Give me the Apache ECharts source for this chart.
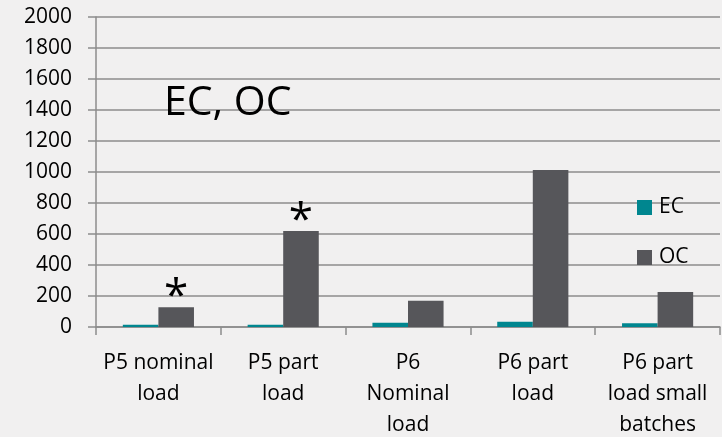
<!DOCTYPE html>
<html><head><meta charset="utf-8">
<script src="https://cdn.jsdelivr.net/npm/echarts@6/dist/echarts.min.js"></script>
<style>html,body{margin:0;padding:0;background:#f1f0f0;}#c{width:722px;height:437px;}</style>
</head><body><div id="c"></div>
<script>
const categories = ['P5 nominal\nload', 'P5 part\nload', 'P6\nNominal\nload', 'P6 part\nload', 'P6 part\nload small\nbatches'];
const ecValues = [15, 14, 28, 34, 24];
const ocValues = [127, 619, 170, 1013, 226];
const ocMarks = ['*', '*', '', '', ''];
const yTicks = [0, 2000, 200];

const font = '"Open Sans", sans-serif';
const chart = echarts.init(document.getElementById('c'));
chart.setOption({
  backgroundColor: '#f1f0f0',
  animation: false,
  title: {
    text: 'EC, OC', left: 159, top: 78,
    textStyle: { fontFamily: font, fontSize: 41, fontWeight: 'normal', color: '#000' }
  },
  legend: {
    orient: 'vertical', left: 632, top: 192, itemGap: 29,
    itemWidth: 15, itemHeight: 15, icon: 'rect',
    textStyle: { fontFamily: font, fontSize: 21, color: '#000', padding: [0, 0, 0, 2] },
    data: ['EC', 'OC']
  },
  grid: { left: 96, right: 2, top: 17, bottom: 110, containLabel: false, outerBoundsMode: 'none' },
  xAxis: {
    type: 'category', data: categories,
    axisLine: { lineStyle: { color: '#8c8c8c', width: 1.5 } },
    axisTick: { show: true, length: 8, alignWithLabel: false, lineStyle: { color: '#8c8c8c', width: 1.5 } },
    axisLabel: { fontFamily: font, fontSize: 21, color: '#000', lineHeight: 31, margin: 21, interval: 0 }
  },
  yAxis: {
    type: 'value', min: yTicks[0], max: yTicks[1], interval: yTicks[2],
    axisLine: { show: true, lineStyle: { color: '#8c8c8c', width: 1.5 } },
    axisTick: { show: true, length: 8, lineStyle: { color: '#8c8c8c', width: 1.5 } },
    splitLine: { lineStyle: { color: '#8c8c8c', width: 1.5 } },
    axisLabel: { fontFamily: font, fontSize: 21, color: '#000', margin: 24, formatter: v => String(v) }
  },
  series: [
    { name: 'EC', type: 'bar', data: ecValues, barGap: '0%', barCategoryGap: '43%',
      itemStyle: { color: '#00868f' } },
    { name: 'OC', type: 'bar', data: ocValues.map((v, i) => ({
        value: v,
        label: { show: ocMarks[i] !== '', formatter: ocMarks[i], position: 'top', distance: -12,
                 fontSize: 44, fontFamily: font, color: '#000' }
      })),
      itemStyle: { color: '#56565a' } }
  ]
});
</script></body></html>
